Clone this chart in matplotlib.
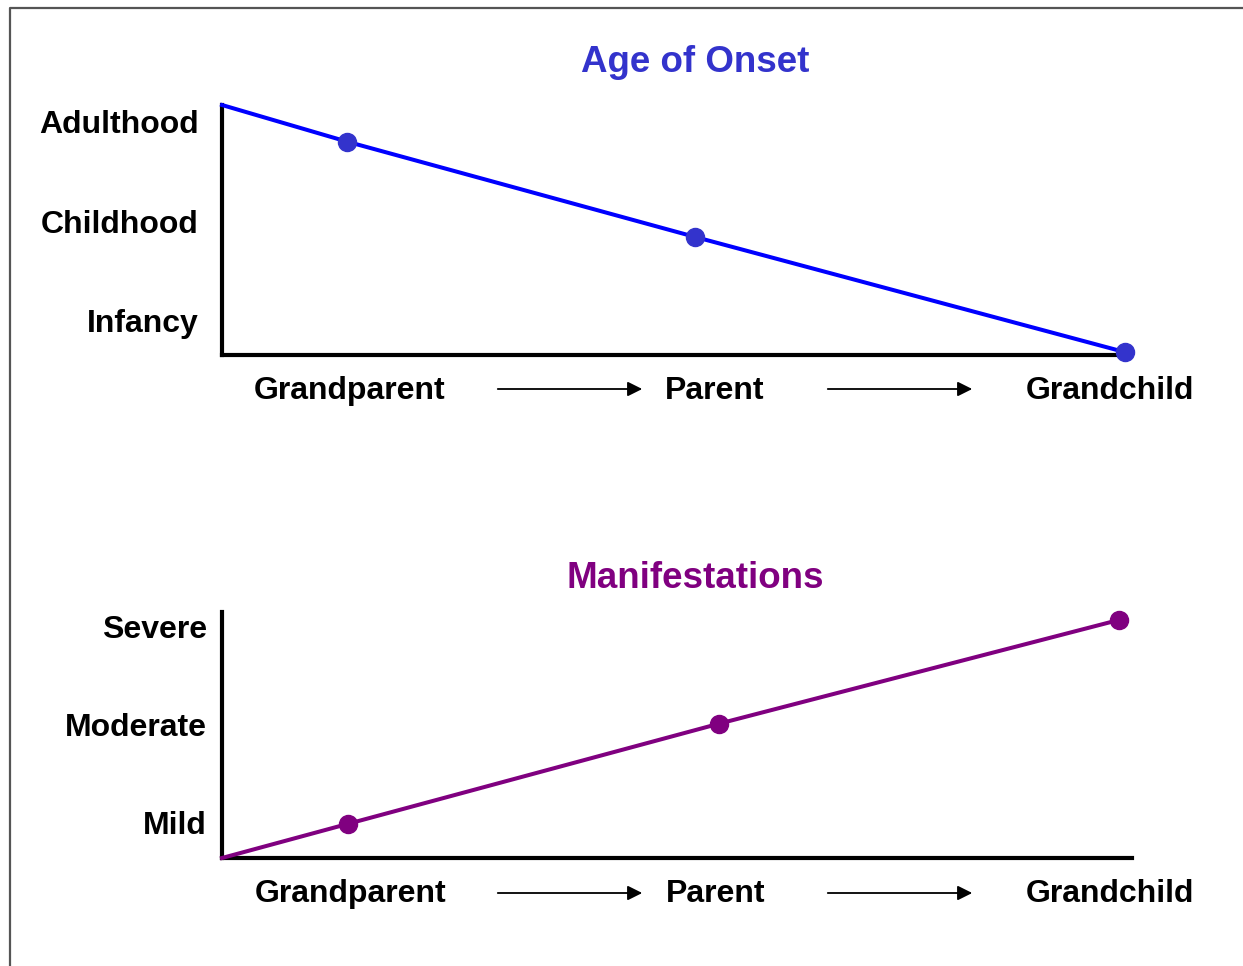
import matplotlib
matplotlib.use("Agg")
import matplotlib.pyplot as plt
from matplotlib.lines import Line2D

plt.rcParams['font.family'] = ['Liberation Sans', 'DejaVu Sans']

generations = ["Grandparent", "Parent", "Grandchild"]

# age of onset panel
onset_x = [0, 13.8, 52.1, 99.4]
onset_y = [3.17, 2.80, 1.84, 0.68]
onset_levels = ["Infancy", "Childhood", "Adulthood"]
onset_gen_pos = [14.1, 54.3, 97.8]

# manifestations panel
manif_x = [0, 13.9, 54.6, 98.6]
manif_y = [0.64, 0.99, 2.01, 3.07]
manif_levels = ["Mild", "Moderate", "Severe"]
manif_gen_pos = [14.1, 54.2, 97.6]

W, H = 1243, 966
fig = plt.figure(figsize=(W / 100, H / 100), dpi=100)


def setup(ax, levels, gen_pos, ypad):
    for s in ['top', 'right']:
        ax.spines[s].set_visible(False)
    for s in ['left', 'bottom']:
        ax.spines[s].set_linewidth(3)
        ax.spines[s].set_color('black')
    ax.set_yticks([1, 2, 3])
    ax.set_yticklabels(levels)
    ax.set_xticks(gen_pos)
    ax.set_xticklabels(generations)
    ax.tick_params(axis='y', length=0, pad=ypad, labelsize=23)
    ax.tick_params(axis='x', length=0, pad=15, labelsize=23)
    for lab in ax.get_xticklabels() + ax.get_yticklabels():
        lab.set_fontweight('bold')


ax1 = fig.add_axes([222 / W, 1 - 355 / H, 908 / W, 250 / H])
ax1.plot(onset_x, onset_y, color='#0000ff', lw=2.9, clip_on=False, zorder=3)
ax1.plot(onset_x[1:], onset_y[1:], 'o', color='#3333cc', ms=13,
         clip_on=False, zorder=4)
ax1.set_xlim(0, 100)
ax1.set_ylim(0.65, 3.17)
setup(ax1, onset_levels, onset_gen_pos, 17)

ax2 = fig.add_axes([222 / W, 1 - 858 / H, 910 / W, 246 / H])
ax2.plot(manif_x, manif_y, color='#800080', lw=2.9, clip_on=False, zorder=3)
ax2.plot(manif_x[1:], manif_y[1:], 'o', color='#800080', ms=13,
         clip_on=False, zorder=4)
ax2.set_xlim(0, 100)
ax2.set_ylim(0.64, 3.15)
setup(ax2, manif_levels, manif_gen_pos, 11)

fig.text(695 / W, 1 - 63 / H, "Age of Onset", color='#3333cc',
         fontsize=26.5, fontweight='bold', ha='center', va='center')
fig.text(695 / W, 1 - 578 / H, "Manifestations", color='#800080',
         fontsize=26.5, fontweight='bold', ha='center', va='center')

# arrows between generation labels
for yy in [389, 893]:
    for x0, x1 in [(495, 645), (825, 975)]:
        fig.add_artist(matplotlib.patches.FancyArrowPatch(
            (x0 / W, 1 - yy / H), (x1 / W, 1 - yy / H),
            transform=fig.transFigure, arrowstyle='-|>', mutation_scale=22,
            lw=1.3, color='black'))

# frame
fig.add_artist(Line2D([10 / W, 10 / W, 1], [0, 1 - 8 / H, 1 - 8 / H],
                      transform=fig.transFigure, color='#555555', lw=1.6))

fig.savefig("out.png", dpi=100)
